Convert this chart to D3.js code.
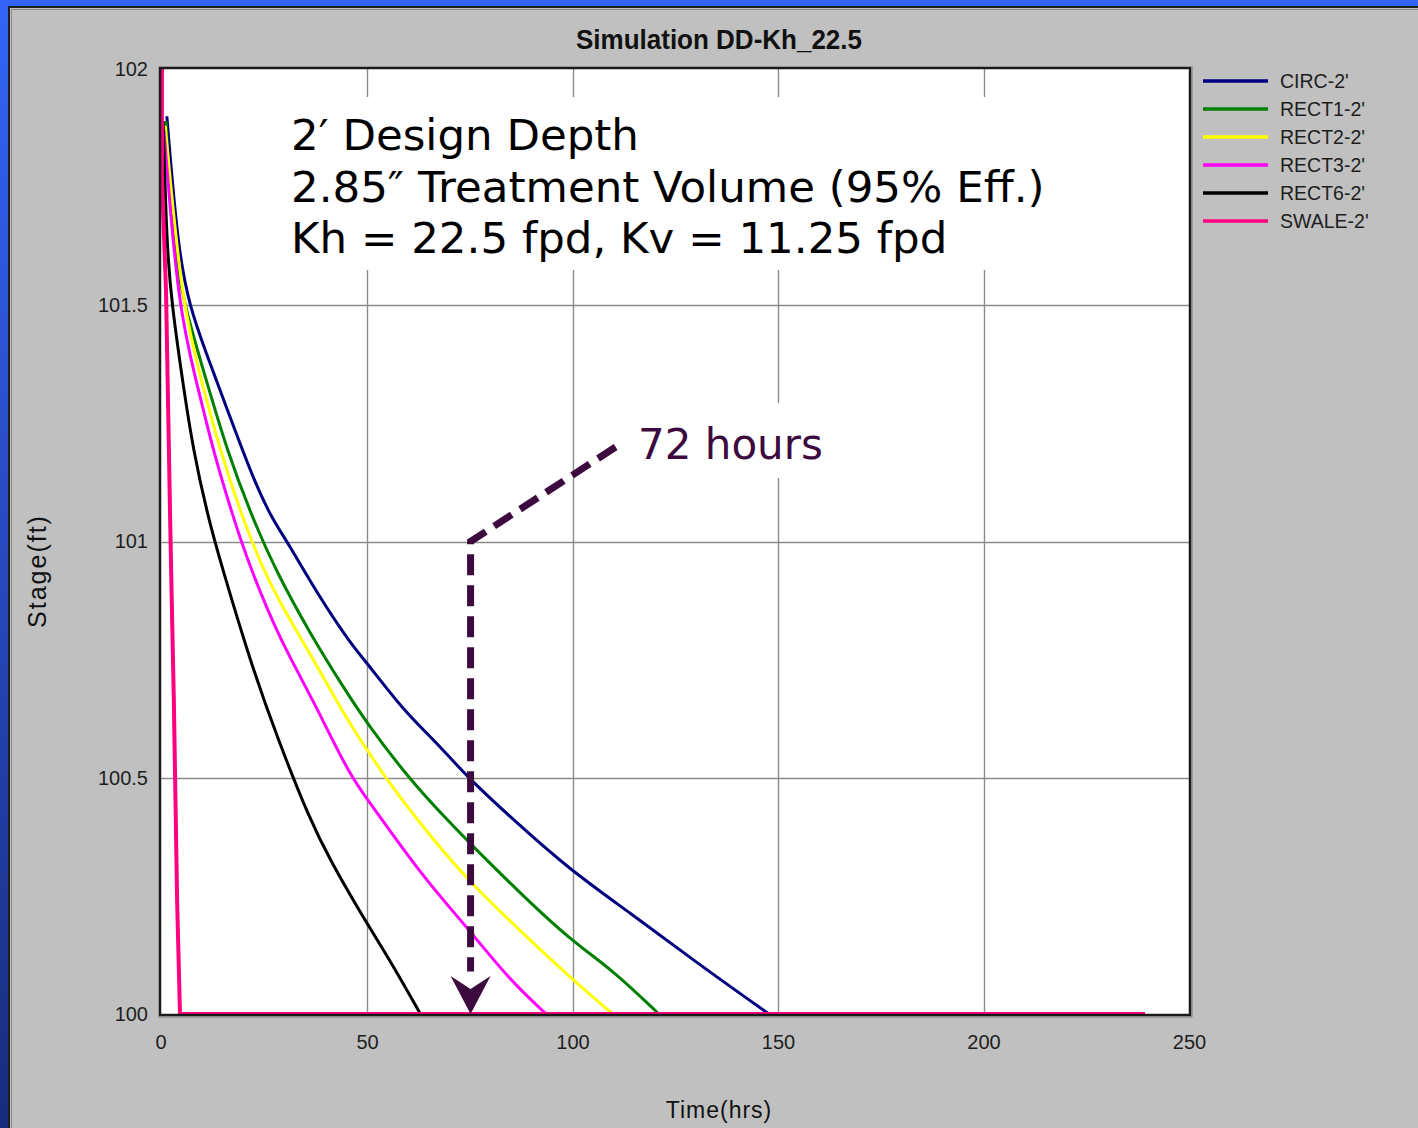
<!DOCTYPE html>
<html>
<head>
<meta charset="utf-8">
<script src="https://cdn.jsdelivr.net/npm/d3@7"></script>
<style>
  html, body { margin: 0; padding: 0; }
  body { width: 1418px; height: 1128px; overflow: hidden; background: #3262f2; }
  svg { display: block; }
</style>
</head>
<body>
<svg id="chart" width="1418" height="1128"></svg>
<script>
// ---------------- DATA ----------------
const chartTitle = "Simulation DD-Kh_22.5";
const xTicks = [0, 50, 100, 150, 200, 250];
const yTicks = [100, 100.5, 101, 101.5, 102];
const yTickLabels = ["100", "100.5", "101", "101.5", "102"];
const seriesNames = ["CIRC-2'", "RECT1-2'", "RECT2-2'", "RECT3-2'", "RECT6-2'", "SWALE-2'"];
const seriesColors = ["#000080", "#008000", "#ffff00", "#ff00ff", "#000000", "#ff0080"];

const circTime  = [1.3, 4.0, 6.9, 10.6, 16.7, 22.7, 27.1, 30.8, 37.8, 45.9, 50.0, 58.8, 67.0, 74.3, 86.5, 99.4, 114.0, 130.3, 147.8];
const circStage = [101.90, 101.617, 101.496, 101.405, 101.263, 101.124, 101.045, 100.997, 100.891, 100.785, 100.743, 100.643, 100.574, 100.502, 100.404, 100.305, 100.214, 100.108, 100.0];

const rect1Time  = [1.1, 2.8, 5.7, 11.1, 15.9, 22.0, 28.1, 36.1, 44.2, 50.0, 60.5, 69.5, 74.3, 86.5, 99.4, 109.8, 121.0];
const rect1Stage = [101.89, 101.617, 101.496, 101.335, 101.194, 101.052, 100.933, 100.806, 100.692, 100.615, 100.495, 100.411, 100.368, 100.262, 100.157, 100.093, 100.0];

const rect2Time  = [0.9, 5.0, 9.9, 14.2, 19.6, 24.5, 28.8, 36.1, 44.2, 50.0, 54.9, 62.2, 74.3, 87.9, 100.1, 109.8];
const rect2Stage = [101.88, 101.496, 101.335, 101.194, 101.052, 100.946, 100.870, 100.764, 100.637, 100.559, 100.495, 100.411, 100.284, 100.171, 100.072, 100.0];

const rect3Time  = [0.6, 4.0, 8.6, 12.5, 17.4, 21.5, 28.8, 36.9, 45.9, 51.5, 63.6, 74.3, 84.7, 93.6];
const rect3Stage = [101.87, 101.496, 101.335, 101.194, 101.052, 100.946, 100.792, 100.665, 100.502, 100.438, 100.290, 100.184, 100.072, 100.0];

const rect6Time  = [0.4, 1.3, 2.6, 5.2, 7.7, 11.3, 14.7, 21.5, 28.1, 36.1, 41.0, 49.0, 55.6, 63.0];
const rect6Stage = [101.89, 101.617, 101.496, 101.335, 101.194, 101.052, 100.946, 100.749, 100.586, 100.411, 100.326, 100.205, 100.114, 100.0];

const swaleTime  = [0.1, 0.1, 1.1, 1.6, 2.1, 2.55, 3.0, 3.8, 4.5, 239.3];
const swaleStage = [102.0, 101.77, 101.53, 101.29, 101.05, 100.85, 100.665, 100.24, 100.0, 100.0];

const seriesTimes  = [circTime, rect1Time, rect2Time, rect3Time, rect6Time, swaleTime];
const seriesStages = [circStage, rect1Stage, rect2Stage, rect3Stage, rect6Stage, swaleStage];

const noteLines = ["2\u2032 Design Depth", "2.85\u2033 Treatment Volume (95% Eff.)", "Kh = 22.5 fpd, Kv = 11.25 fpd"];
const arrowLabel = "72 hours";
const arrowTime = [110.5, 75.2, 75.2];
const arrowStage = [101.2, 101.0, 100.09];
const arrowTip = [75.2, 100.0];

// ---------------- DRAW ----------------
const svg = d3.select("#chart");
const W = 1418, H = 1128;

const defs = svg.append("defs");
const bg = defs.append("linearGradient").attr("id", "bgGrad").attr("x1", 0).attr("y1", 0).attr("x2", 0).attr("y2", 1);
bg.append("stop").attr("offset", "0%").attr("stop-color", "#3364f6");
bg.append("stop").attr("offset", "55%").attr("stop-color", "#2646b8");
bg.append("stop").attr("offset", "100%").attr("stop-color", "#182c7c");
svg.append("rect").attr("width", W).attr("height", H).attr("fill", "url(#bgGrad)");

// grey panel
svg.append("rect").attr("x", 9).attr("y", 7).attr("width", W).attr("height", H)
  .attr("fill", "#c0c0c0").attr("stroke", "#1e1e1e").attr("stroke-width", 2);
svg.append("path").attr("d", `M11.5,${H} V9.5 H${W}`).attr("fill", "none").attr("stroke", "#8a8a8a").attr("stroke-width", 1);

const x = d3.scaleLinear().domain([0, 250]).range([161.5, 1189]);
const y = d3.scaleLinear().domain([100, 102]).range([1014, 69]);

// plot area
svg.append("rect").attr("x", 160).attr("y", 68).attr("width", 1030).attr("height", 947).attr("fill", "#ffffff");

// grid
const grid = svg.append("g");
grid.selectAll("line.vx").data(xTicks.slice(1, -1)).join("line")
  .attr("x1", d => Math.round(x(d)) + 0.5).attr("x2", d => Math.round(x(d)) + 0.5)
  .attr("y1", y(102)).attr("y2", y(100))
  .attr("stroke", "#8c8c8c").attr("stroke-width", 1.4);
grid.selectAll("line.hy").data(yTicks.slice(1, -1)).join("line")
  .attr("y1", d => Math.round(y(d)) + 0.5).attr("y2", d => Math.round(y(d)) + 0.5)
  .attr("x1", x(0)).attr("x2", x(250))
  .attr("stroke", "#8c8c8c").attr("stroke-width", 1.4);

// white boxes behind annotations
svg.append("rect").attr("x", 280).attr("y", 97).attr("width", 790).attr("height", 173).attr("fill", "#fff");
svg.append("rect").attr("x", 626).attr("y", 403).attr("width", 205).attr("height", 75).attr("fill", "#fff");

// series
const lineSmooth = d3.line().x(d => x(d[0])).y(d => y(d[1])).curve(d3.curveBasis);
const lineStraight = d3.line().x(d => x(d[0])).y(d => y(d[1])).curve(d3.curveLinear);
const seriesG = svg.append("g");
seriesNames.forEach((name, i) => {
  const pts = seriesTimes[i].map((t, j) => [t, seriesStages[i][j]]);
  seriesG.append("path").datum(pts)
    .attr("d", i === 5 ? lineStraight : lineSmooth)
    .attr("fill", "none")
    .attr("stroke", seriesColors[i])
    .attr("stroke-width", i === 5 ? 4 : 3)
    .attr("stroke-linejoin", "round");
});

// frame
svg.append("rect").attr("x", 160).attr("y", 68).attr("width", 1030).attr("height", 947)
  .attr("fill", "none").attr("stroke", "#1a1a1a").attr("stroke-width", 2.5);
svg.append("path").attr("d", "M1192,66 V1017 H158").attr("fill", "none").attr("stroke", "#7a7a7a").attr("stroke-width", 1);

// axes
const fontAxis = "'Liberation Sans', Arial, sans-serif";
const xAxis = d3.axisBottom(x).tickValues(xTicks).tickSize(0).tickPadding(0).tickFormat(d3.format("d"));
const gx = svg.append("g").attr("transform", "translate(0,1035)").call(xAxis);
gx.select(".domain").remove();
gx.selectAll("text").attr("font-family", fontAxis).attr("font-size", 20).attr("fill", "#1e1e1e").attr("dy", "0.72em");
gx.selectAll(".tick text").attr("x", d => d === 0 ? -1 : 0);

const yAxis = d3.axisLeft(y).tickValues(yTicks).tickSize(0).tickPadding(0).tickFormat((d, i) => yTickLabels[i]);
const gy = svg.append("g").attr("transform", "translate(148,0)").call(yAxis);
gy.select(".domain").remove();
gy.selectAll("text").attr("font-family", fontAxis).attr("font-size", 20).attr("fill", "#1e1e1e");

// title
svg.append("text").attr("x", 719).attr("y", 49).attr("text-anchor", "middle")
  .attr("font-family", "'Liberation Sans Narrow', 'Arial Narrow', 'Liberation Sans', sans-serif")
  .attr("font-weight", "bold").attr("font-size", 28).attr("fill", "#111")
  .attr("textLength", 286).attr("lengthAdjust", "spacingAndGlyphs").text(chartTitle);

// axis titles
svg.append("text").attr("x", 719).attr("y", 1118).attr("text-anchor", "middle")
  .attr("font-family", fontAxis).attr("font-size", 23).attr("letter-spacing", 1).attr("fill", "#111").text("Time(hrs)");
svg.append("text").attr("transform", "translate(46,571) rotate(-90)").attr("text-anchor", "middle")
  .attr("font-family", fontAxis).attr("font-size", 25).attr("letter-spacing", 2).attr("fill", "#111").text("Stage(ft)");

// legend
const leg = svg.append("g");
seriesNames.forEach((name, i) => {
  const ly = 81 + i * 28;
  leg.append("line").attr("x1", 1203).attr("x2", 1268).attr("y1", ly).attr("y2", ly)
    .attr("stroke", seriesColors[i]).attr("stroke-width", 3.5);
  leg.append("text").attr("x", 1280).attr("y", ly).attr("dy", "0.36em")
    .attr("font-family", fontAxis).attr("font-size", 19.5).attr("fill", "#1e1e1e").text(name);
});

// annotation text
const noteFont = "'DejaVu Sans', Verdana, sans-serif";
noteLines.forEach((t, i) => {
  svg.append("text").attr("x", 291).attr("y", 150 + i * 51.5)
    .attr("font-family", noteFont).attr("font-size", 43.5).attr("fill", "#000").text(t);
});

// arrow
const arrowColor = "#3c0a3e";
const arrowPts = arrowTime.map((t, i) => [t, arrowStage[i]]);
svg.append("path").datum(arrowPts).attr("d", lineStraight)
  .attr("fill", "none").attr("stroke", arrowColor).attr("stroke-width", 7)
  .attr("stroke-dasharray", "21,10").attr("stroke-linejoin", "miter");
const tx = x(arrowTip[0]), ty = y(arrowTip[1]);
svg.append("path")
  .attr("d", `M${tx},${ty} L${tx - 20},${ty - 38} L${tx},${ty - 25} L${tx + 20},${ty - 38} Z`)
  .attr("fill", arrowColor);
svg.append("text").attr("x", 638).attr("y", 459)
  .attr("font-family", noteFont).attr("font-size", 42).attr("fill", arrowColor).text(arrowLabel);
</script>
</body>
</html>
